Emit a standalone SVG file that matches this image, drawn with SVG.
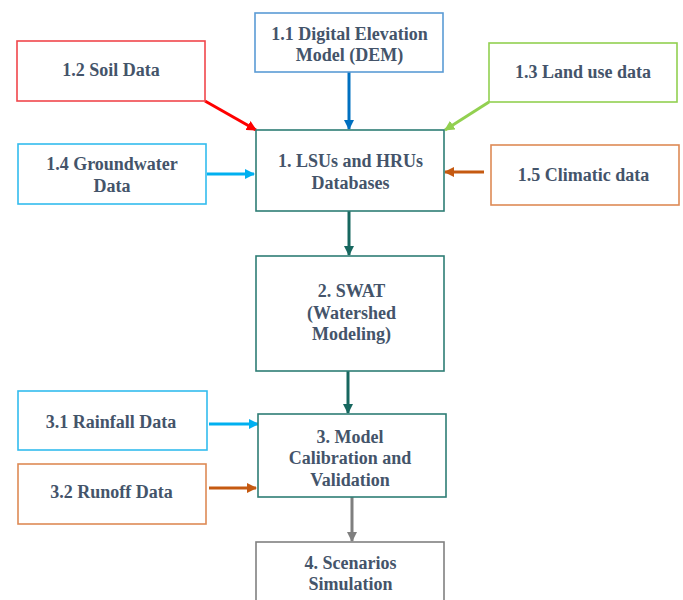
<svg xmlns="http://www.w3.org/2000/svg" width="683" height="600" viewBox="0 0 683 600">
  <defs>
    <style>
      .box { fill: #ffffff; stroke-width: 1.6; }
      .lbl { font-family: 'Liberation Serif', 'Times New Roman', serif; font-weight: 700; font-size: 18px; fill: #44546A; text-anchor: middle; }
      .con { fill: none; stroke-width: 3; }
    </style>
    <marker id="ah-blue" viewBox="0 0 10 10" refX="9" refY="5" markerWidth="3.4" markerHeight="3.4" orient="auto"><path d="M0,0 L10,5 L0,10 z" fill="#0070C0"/></marker>
    <marker id="ah-red" viewBox="0 0 10 10" refX="9" refY="5" markerWidth="3.4" markerHeight="3.4" orient="auto"><path d="M0,0 L10,5 L0,10 z" fill="#FF0000"/></marker>
    <marker id="ah-green" viewBox="0 0 10 10" refX="9" refY="5" markerWidth="3.4" markerHeight="3.4" orient="auto"><path d="M0,0 L10,5 L0,10 z" fill="#92D050"/></marker>
    <marker id="ah-cyan" viewBox="0 0 10 10" refX="9" refY="5" markerWidth="3.4" markerHeight="3.4" orient="auto"><path d="M0,0 L10,5 L0,10 z" fill="#00B0F0"/></marker>
    <marker id="ah-orange" viewBox="0 0 10 10" refX="9" refY="5" markerWidth="3.4" markerHeight="3.4" orient="auto"><path d="M0,0 L10,5 L0,10 z" fill="#C55A11"/></marker>
    <marker id="ah-teal" viewBox="0 0 10 10" refX="9" refY="5" markerWidth="3.4" markerHeight="3.4" orient="auto"><path d="M0,0 L10,5 L0,10 z" fill="#17675F"/></marker>
    <marker id="ah-grey" viewBox="0 0 10 10" refX="9" refY="5" markerWidth="3.4" markerHeight="3.4" orient="auto"><path d="M0,0 L10,5 L0,10 z" fill="#7F7F7F"/></marker>
  </defs>
  <rect width="683" height="600" fill="#ffffff"/>

  <g id="connectors">
    <line class="con" x1="349" y1="72" x2="349" y2="129" stroke="#0070C0" marker-end="url(#ah-blue)"/>
    <line class="con" x1="205" y1="101" x2="256" y2="130" stroke="#FF0000" marker-end="url(#ah-red)"/>
    <line class="con" x1="489" y1="102" x2="445" y2="130" stroke="#92D050" marker-end="url(#ah-green)"/>
    <line class="con" x1="207" y1="174" x2="254" y2="174" stroke="#00B0F0" marker-end="url(#ah-cyan)"/>
    <line class="con" x1="484" y1="172" x2="445" y2="172" stroke="#C55A11" marker-end="url(#ah-orange)"/>
    <line class="con" x1="349" y1="211" x2="349" y2="255" stroke="#17675F" marker-end="url(#ah-teal)"/>
    <line class="con" x1="348" y1="371" x2="348" y2="413" stroke="#17675F" marker-end="url(#ah-teal)"/>
    <line class="con" x1="209" y1="424" x2="258" y2="424" stroke="#00B0F0" marker-end="url(#ah-cyan)"/>
    <line class="con" x1="209" y1="488" x2="256" y2="488" stroke="#C55A11" marker-end="url(#ah-orange)"/>
    <line class="con" x1="352" y1="497" x2="352" y2="541" stroke="#7F7F7F" marker-end="url(#ah-grey)"/>
  </g>

  <g id="n-dem">
    <rect class="box" x="255" y="13" width="188" height="59" stroke="#5B9BD5"/>
    <text class="lbl" x="349.5" y="40">1.1 Digital Elevation</text>
    <text class="lbl" x="349.5" y="61">Model (DEM)</text>
  </g>
  <g id="n-soil">
    <rect class="box" x="17" y="41" width="188" height="60" stroke="#F0464B"/>
    <text class="lbl" x="111" y="76">1.2 Soil Data</text>
  </g>
  <g id="n-landuse">
    <rect class="box" x="489" y="43" width="188" height="59" stroke="#92D050"/>
    <text class="lbl" x="583" y="78">1.3 Land use data</text>
  </g>
  <g id="n-groundwater">
    <rect class="box" x="18" y="144" width="188" height="60" stroke="#33BCEE"/>
    <text class="lbl" x="112" y="170">1.4 Groundwater</text>
    <text class="lbl" x="112" y="192">Data</text>
  </g>
  <g id="n-climatic">
    <rect class="box" x="491" y="145" width="188" height="60" stroke="#DE8A55"/>
    <text class="lbl" x="583.5" y="181">1.5 Climatic data</text>
  </g>
  <g id="n-lsu">
    <rect class="box" x="256" y="130" width="188" height="81" stroke="#2E7D75"/>
    <text class="lbl" x="350.5" y="167">1. LSUs and HRUs</text>
    <text class="lbl" x="350.5" y="189">Databases</text>
  </g>
  <g id="n-swat">
    <rect class="box" x="256" y="256" width="188" height="115" stroke="#2E7D75"/>
    <text class="lbl" x="351.5" y="297">2. SWAT</text>
    <text class="lbl" x="351.5" y="319">(Watershed</text>
    <text class="lbl" x="351.5" y="340">Modeling)</text>
  </g>
  <g id="n-rainfall">
    <rect class="box" x="18" y="391" width="189" height="59" stroke="#33BCEE"/>
    <text class="lbl" x="111" y="428">3.1 Rainfall Data</text>
  </g>
  <g id="n-runoff">
    <rect class="box" x="18" y="464" width="188" height="60" stroke="#DE8A55"/>
    <text class="lbl" x="111.5" y="498">3.2 Runoff Data</text>
  </g>
  <g id="n-calibration">
    <rect class="box" x="258" y="414" width="188" height="83" stroke="#2E7D75"/>
    <text class="lbl" x="350" y="443">3. Model</text>
    <text class="lbl" x="350" y="464">Calibration and</text>
    <text class="lbl" x="350" y="486">Validation</text>
  </g>
  <g id="n-scenarios">
    <rect class="box" x="256" y="542" width="188" height="70" stroke="#808080"/>
    <text class="lbl" x="350.5" y="569">4. Scenarios</text>
    <text class="lbl" x="350.5" y="590">Simulation</text>
  </g>
</svg>
